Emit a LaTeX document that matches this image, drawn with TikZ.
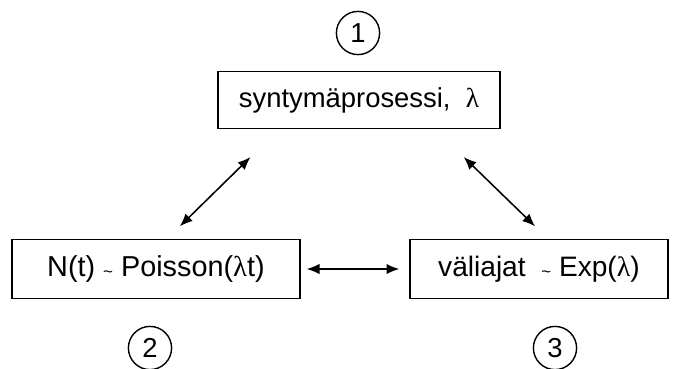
\documentclass[tikz,border=0pt]{standalone}
\usepackage{fontspec}
\setmainfont{Liberation Sans}
\newfontfamily\greekfont{Liberation Serif}
\usetikzlibrary{positioning,calc,arrows.meta}

\newcommand{\lam}{{\greekfont λ}}
\newcommand{\tld}{{\fontsize{12}{14}\selectfont\raisebox{-0.15ex}{\textasciitilde}}}

\tikzset{
    stage/.style={draw=black, line width=1pt, minimum height=1.42cm, font=\fontsize{19.5}{22}\selectfont},
    num/.style={draw=black, line width=1pt, circle, minimum size=1.08cm, inner sep=0pt, font=\fontsize{19.5}{22}\selectfont},
    link/.style={{Latex[length=3.2mm,width=2.6mm]}-{Latex[length=3.2mm,width=2.6mm]}, line width=1.1pt}
}

\begin{document}
\begin{tikzpicture}
        \useasboundingbox (0,0) rectangle (17,-9.2);

        \node (birth) [stage, minimum width=7.05cm] at (8.975,-2.5) {syntymäprosessi,\ \ \lam};
        \node (poisson) [stage, minimum width=7.2cm, minimum height=1.47cm, font=\fontsize{20.5}{23}\selectfont] at (3.9,-6.725) {N(t) \tld\ Poisson(\lam t)};
        \node (waits) [stage, minimum width=6.45cm, minimum height=1.47cm, font=\fontsize{20}{23}\selectfont] at (13.475,-6.725) {väliajat\ \ \tld\ Exp(\lam)};

        \node (one) [num] at (8.95,-0.825) {1};
        \node (two) [num] at (3.75,-8.7) {2};
        \node (three) [num] at (13.875,-8.7) {3};

        \draw[link, shorten <=0.45cm, shorten >=1cm] ([xshift=0.275cm]poisson.north) -- ([xshift=-2cm]birth.south);
        \draw[link, shorten <=1cm, shorten >=0.45cm] ([xshift=1.9cm]birth.south) -- ([xshift=0.225cm]waits.north);
        \draw[link, shorten <=0.15cm, shorten >=0.25cm] (poisson) -- (waits);
    \end{tikzpicture}
\end{document}
